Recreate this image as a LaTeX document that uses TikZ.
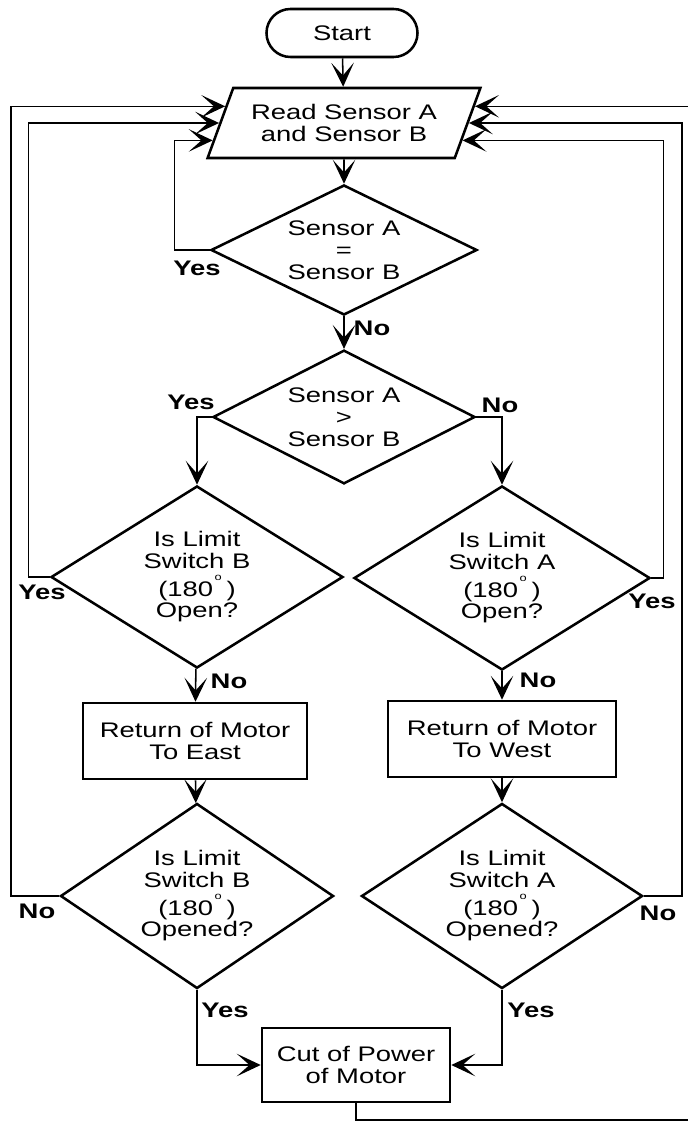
\documentclass[tikz,border=0pt]{standalone}
\usepackage{fontspec}
\setmainfont{Liberation Sans}[FakeStretch=1.3]
\usetikzlibrary{shapes.geometric,shapes.misc,arrows.meta,calc}

\newcommand{\gradi}{\hspace{1pt}\raisebox{11pt}[0pt][0pt]{\scriptsize o}\hspace{3.5pt}}

\begin{document}
\begin{tikzpicture}[x=0.025cm, y=-0.025cm, line width=1.1pt,
    >={Stealth[length=17pt,width=16pt,inset=9pt]},
    font=\fontsize{15}{15.5}\selectfont,
    forma/.style={draw, line width=1.8pt, align=center, inner sep=0pt},
    blocco/.style={forma, rectangle, minimum width=5.6cm, minimum height=1.9cm},
    rombo/.style={forma, diamond, aspect=1.5},
    etichetta/.style={font=\fontsize{15}{15.5}\selectfont\bfseries, inner sep=0pt}]

    \useasboundingbox (0,0) rectangle (688,1122);

    % --- Inizio e lettura sensori ---
    \node[forma, rounded rectangle, minimum width=3.775cm, minimum height=1.2cm] (start) at (342,33) {Start};
    \node[forma, trapezium, trapezium left angle=60, trapezium right angle=120, trapezium stretches=true,
        minimum width=6.825cm, minimum height=1.75cm] (read) at (344,123) {Read Sensor A\\and Sensor B};

    % punti di arrivo sui lati obliqui
    \coordinate (inL1) at ($(read.bottom left corner)!0.73!(read.top left corner)$);
    \coordinate (inL2) at ($(read.bottom left corner)!0.5!(read.top left corner)$);
    \coordinate (inL3) at ($(read.bottom left corner)!0.26!(read.top left corner)$);
    \coordinate (inR1) at ($(read.bottom right corner)!0.73!(read.top right corner)$);
    \coordinate (inR2) at ($(read.bottom right corner)!0.5!(read.top right corner)$);
    \coordinate (inR3) at ($(read.bottom right corner)!0.26!(read.top right corner)$);

    % --- Confronti ---
    \node[rombo, aspect=2, minimum width=6.65cm, minimum height=3.25cm] (d1) at (344,250) {Sensor A\\=\\Sensor B};
    \node[rombo, minimum width=6.55cm, minimum height=3.3cm] (d2) at (344,417) {Sensor A\\>\\Sensor B};

    % --- Finecorsa ---
    \node[rombo, minimum width=7.3cm, minimum height=4.55cm] (d3) at (197,577) {Is Limit\\Switch B\\[4pt](180\gradi)\\Open?};
    \node[rombo, minimum width=7.4cm, minimum height=4.6cm] (d4) at (502,578) {Is Limit\\Switch A\\[4pt](180\gradi)\\Open?};

    % --- Ritorno del motore ---
    \node[blocco] (est) at (195,741) {Return of Motor\\To East};
    \node[blocco, minimum width=5.7cm] (ovest) at (502,739) {Return of Motor\\To West};

    \node[rombo, minimum width=6.825cm, minimum height=4.625cm] (d5) at (197,896) {Is Limit\\Switch B\\[4pt](180\gradi)\\Opened?};
    \node[rombo, minimum width=7.025cm, minimum height=4.625cm] (d6) at (502,896) {Is Limit\\Switch A\\[4pt](180\gradi)\\Opened?};

    % --- Taglio alimentazione ---
    \node[blocco, minimum width=4.7cm, minimum height=1.85cm] (cut) at (356,1065) {Cut of Power\\of Motor};

    % --- Frecce principali ---
    \draw[->] (start) -- (read);
    \draw[->] (read) -- (d1);
    \draw[->] (d1) -- (d2);
    \draw[->] (d2.west) -| (d3.north);
    \draw[->] (d2.east) -| (d4.north);
    \draw[->] (d3) -- (est);
    \draw[->] (d4) -- (ovest);
    \draw[->] (est) -- (d5);
    \draw[->] (ovest) -- (d6);
    \draw[->] (d5.south) |- (cut.west);
    \draw[->] (d6.south) |- (cut.east);

    % --- Ritorni alla lettura ---
    \draw[->] (d1.west) -- ++(-35,0) |- (inL3);
    \draw[->] (d3.west) -- ++(-21,0) |- (inL2);
    \draw[->] (d5.west) -- ++(-48,0) |- (inL1);
    \draw[->] (d4.east) -- ++(12,0) |- (inR3);
    \draw[->] (d6.east) -- ++(38,0) |- (inR2);
    \draw[->] (cut.south) |- (720,1120) |- (inR1);

    % --- Etichette Yes / No ---
    \node[etichetta] (l1y) at (197,268) {Yes};
    \node[etichetta] (l1n) at (372,328) {No};
    \node[etichetta] (l2y) at (191,402) {Yes};
    \node[etichetta] (l2n) at (500,405) {No};
    \node[etichetta] (l3y) at (42,592) {Yes};
    \node[etichetta] (l3n) at (229,681) {No};
    \node[etichetta] (l4y) at (652,601) {Yes};
    \node[etichetta] (l4n) at (538,680) {No};
    \node[etichetta] (l5n) at (37,911) {No};
    \node[etichetta] (l5y) at (225,1010) {Yes};
    \node[etichetta] (l6n) at (658,913) {No};
    \node[etichetta] (l6y) at (531,1010) {Yes};

\end{tikzpicture}
\end{document}
